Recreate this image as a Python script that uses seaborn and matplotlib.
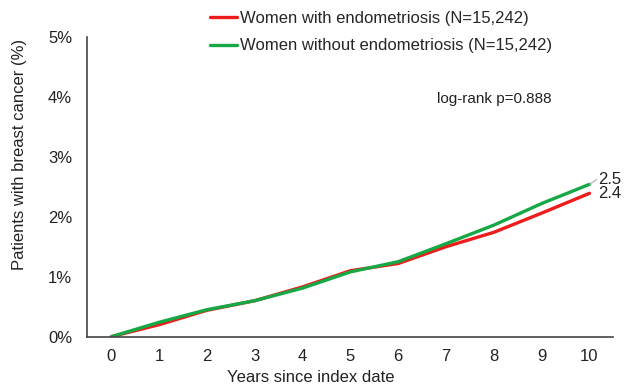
import pandas as pd
import seaborn as sns
import matplotlib.pyplot as plt

years = [0, 1, 2, 3, 4, 5, 6, 7, 8, 9, 10]
with_endo = [0.0, 0.20, 0.44, 0.60, 0.83, 1.10, 1.22, 1.50, 1.74, 2.06, 2.39]
without_endo = [0.0, 0.24, 0.45, 0.60, 0.81, 1.08, 1.25, 1.55, 1.86, 2.22, 2.54]
label_with = 'Women with endometriosis (N=15,242)'
label_without = 'Women without endometriosis (N=15,242)'

df = pd.DataFrame({
    'Years': years * 2,
    'Percent': with_endo + without_endo,
    'Group': [label_with] * len(years) + [label_without] * len(years),
})

sns.set_style('white')
plt.rcParams['font.family'] = ['Liberation Sans', 'DejaVu Sans']

fig, ax = plt.subplots(figsize=(6.24, 3.87), dpi=100)
sns.lineplot(data=df, x='Years', y='Percent', hue='Group',
             palette={label_with: '#ee1c1c', label_without: '#16a845'},
             linewidth=2.4, ax=ax)

ax.set_xlim(-0.5, 10.5)
ax.set_ylim(0, 5)
ax.set_xticks(years)
ax.set_yticks([0, 1, 2, 3, 4, 5])
ax.set_yticklabels([f'{v}%' for v in range(6)])
ax.tick_params(labelsize=12, colors='#222222', length=0)
ax.tick_params(axis='y', pad=11)
ax.tick_params(axis='x', pad=9)
ax.set_xlabel('Years since index date', fontsize=12, color='#222222')
ax.set_ylabel('Patients with breast cancer (%)', fontsize=12, color='#222222')
ax.xaxis.set_label_coords(0.424, -0.112)
ax.yaxis.set_label_coords(-0.115, 0.607)
for side in ['top', 'right']:
    ax.spines[side].set_visible(False)
for side in ['left', 'bottom']:
    ax.spines[side].set_color('#444444')
    ax.spines[side].set_linewidth(1.2)

ax.legend(loc='upper left', bbox_to_anchor=(0.337, 0.972), bbox_transform=fig.transFigure,
          frameon=False, fontsize=12, handlelength=1.6, handletextpad=0.2,
          labelspacing=0.75, borderaxespad=0, borderpad=0)

ax.text(8.0, 3.9, 'log-rank p=0.888', fontsize=11, color='#222222', ha='center')
ax.plot([10.0, 10.15], [without_endo[-1], 2.62], color='#aaaaaa', linewidth=0.8)
ax.text(10.18, 2.62, '2.5', fontsize=12, va='center', color='#222222')
ax.text(10.18, 2.38, '2.4', fontsize=12, va='center', color='#222222')

plt.subplots_adjust(left=0.14, right=0.983, top=0.905, bottom=0.13)
plt.savefig('out.png', dpi=100)
plt.close()
